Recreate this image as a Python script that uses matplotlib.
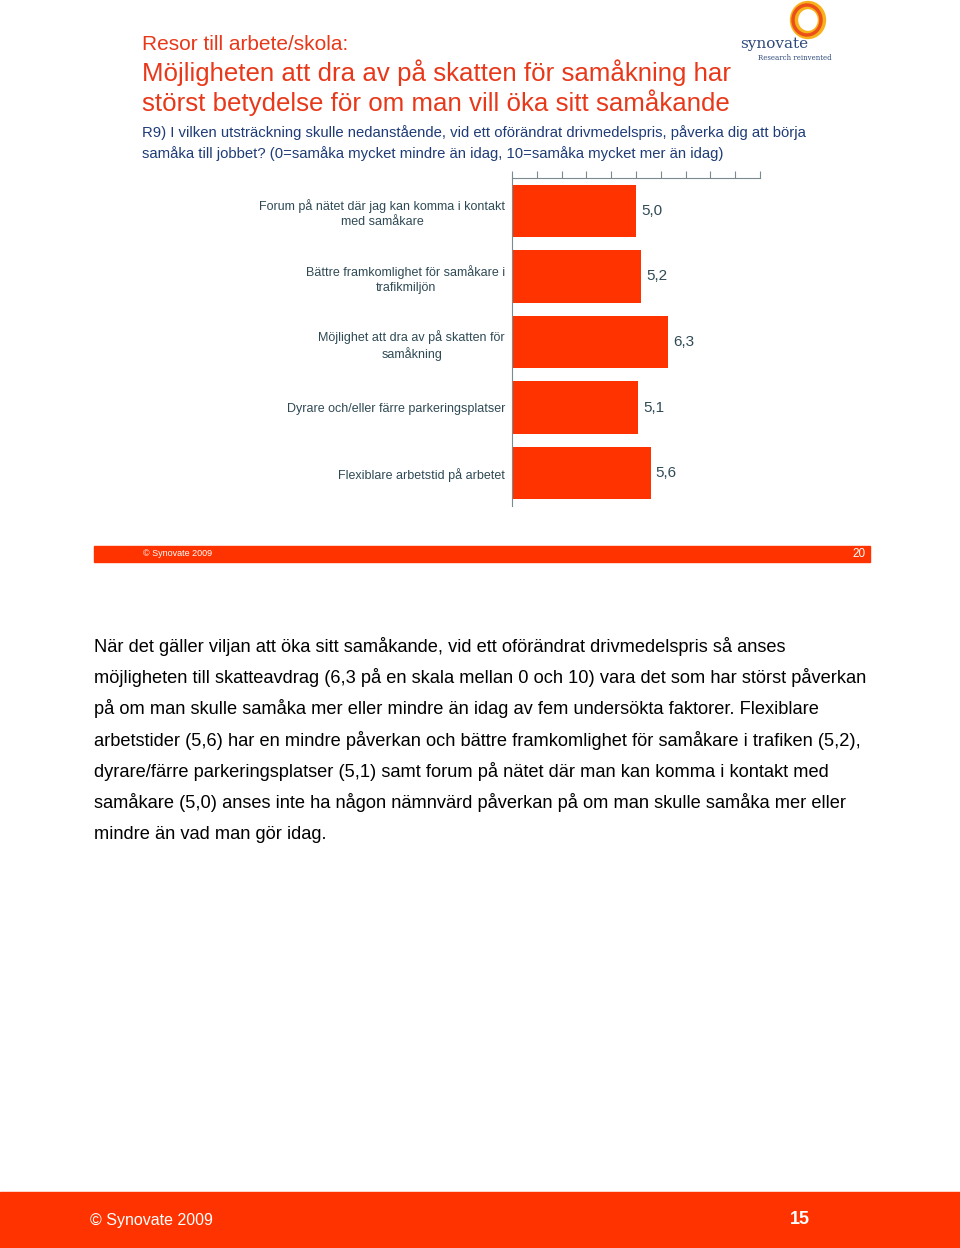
import matplotlib
matplotlib.use('Agg')
import matplotlib.pyplot as plt
from matplotlib.patches import Rectangle, Ellipse

plt.rcParams['font.family'] = ['Liberation Sans', 'DejaVu Sans']

# data
categories = [
    'Forum på nätet där jag kan komma i kontakt\nmed samåkare',
    'Bättre framkomlighet för samåkare i\ntrafikmiljön',
    'Möjlighet att dra av på skatten för\nsamåkning',
    'Dyrare och/eller färre parkeringsplatser',
    'Flexiblare arbetstid på arbetet',
]
values = [5.0, 5.2, 6.3, 5.1, 5.6]
value_labels = ['5,0', '5,2', '6,3', '5,1', '5,6']

RED = '#FF3300'
TITLE = '#E8381A'
BLUE = '#1F3C78'
SLATE = '#2F4A55'

W, H = 960, 1248
fig = plt.figure(figsize=(W / 100, H / 100), dpi=100)


def fx(px):
    return px / W


def fy(py):
    return 1 - py / H


# titles
fig.text(fx(142), fy(44), 'Resor till arbete/skola:', color=TITLE, fontsize=15, va='center')
fig.text(fx(142), fy(73), 'Möjligheten att dra av på skatten för samåkning har', color=TITLE, fontsize=18.6, va='center')
fig.text(fx(142), fy(103), 'störst betydelse för om man vill öka sitt samåkande', color=TITLE, fontsize=18.6, va='center')
fig.text(fx(142), fy(133), 'R9) I vilken utsträckning skulle nedanstående, vid ett oförändrat drivmedelspris, påverka dig att börja',
         color=BLUE, fontsize=10.75, va='center')
fig.text(fx(142), fy(154), 'samåka till jobbet? (0=samåka mycket mindre än idag, 10=samåka mycket mer än idag)',
         color=BLUE, fontsize=10.75, va='center')

# logo
lax = fig.add_axes([fx(736), fy(68), fx(95), 68 / H])
lax.set_xlim(0, 95)
lax.set_ylim(0, 68)
lax.axis('off')
lax.add_patch(Ellipse((72, 48), 28, 30, fill=False, lw=6, ec='#F7B21B'))
lax.add_patch(Ellipse((71, 48), 28, 30, fill=False, lw=2.5, ec='#E8381A', alpha=0.8))
lax.text(4, 24, 'synovate', family='DejaVu Serif', fontsize=11, color='#2E4A7A', va='center')
lax.text(22, 10, 'Research reinvented', family='DejaVu Serif', fontsize=5, color='#2E4A7A', va='center')

# chart
ax = fig.add_axes([fx(512), fy(506), fx(760) - fx(512), (506 - 178) / H])
y = range(len(categories))
ax.barh(y, values, height=0.8, color=RED)
ax.set_xlim(0, 10)
ax.set_ylim(len(categories) - 0.5, -0.5)
ax.set_yticks(list(y))
ax.set_yticklabels(categories, fontsize=9, color=SLATE, ha='right', multialignment='center', linespacing=1.35)
ax.tick_params(axis='y', length=0, pad=5)
ax.xaxis.tick_top()
ax.set_xticks(range(0, 11))
ax.tick_params(axis='x', direction='out', length=5, color='#7A8A90', labeltop=False, labelbottom=False)
for s in ['right', 'bottom']:
    ax.spines[s].set_visible(False)
ax.spines['top'].set_color('#7A8A90')
ax.spines['left'].set_color('#7A8A90')
for i, v in enumerate(values):
    ax.text(v + 0.2, i, value_labels[i], va='center', ha='left', fontsize=11, color=SLATE)

# small slide footer
fig.patches.append(Rectangle((fx(94), fy(562)), fx(870) - fx(94), 16 / H, transform=fig.transFigure,
                             color=RED, zorder=0))
fig.text(fx(143), fy(554), '© Synovate 2009', color='white', fontsize=6.5, va='center')
fig.text(fx(866), fy(554), '20', color='white', fontsize=8.5, va='center', ha='right')

# body text
body = [
    'När det gäller viljan att öka sitt samåkande, vid ett oförändrat drivmedelspris så anses',
    'möjligheten till skatteavdrag (6,3 på en skala mellan 0 och 10) vara det som har störst påverkan',
    'på om man skulle samåka mer eller mindre än idag av fem undersökta faktorer. Flexiblare',
    'arbetstider (5,6) har en mindre påverkan och bättre framkomlighet för samåkare i trafiken (5,2),',
    'dyrare/färre parkeringsplatser (5,1) samt forum på nätet där man kan komma i kontakt med',
    'samåkare (5,0) anses inte ha någon nämnvärd påverkan på om man skulle samåka mer eller',
    'mindre än vad man gör idag.',
]
for k, line in enumerate(body):
    fig.text(fx(94), fy(646 + k * 31.4), line, color='black', fontsize=13.15, va='center')

# page footer
fig.patches.append(Rectangle((0, 0), 1, (H - 1192) / H, transform=fig.transFigure, color=RED, zorder=0))
fig.text(fx(90), fy(1220), '© Synovate 2009', color='white', fontsize=11.5, va='center')
fig.text(fx(810), fy(1219), '15', color='white', fontsize=13, fontweight='bold', va='center', ha='right')

fig.savefig('out.png', dpi=100)
